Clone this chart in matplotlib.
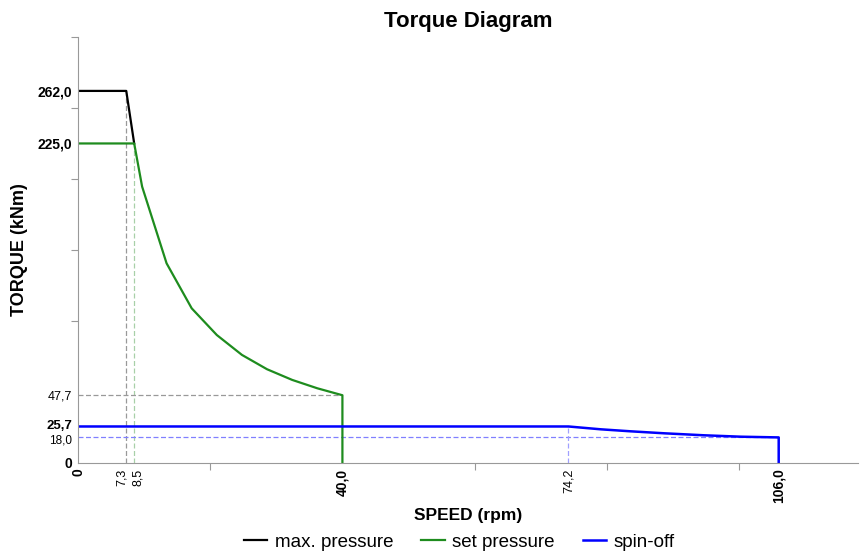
import matplotlib as mpl
mpl.use('Agg')
import matplotlib.pyplot as plt
import matplotlib.ticker as ticker
import matplotlib.transforms as mtransforms

plt.rcParams['font.family'] = ['Liberation Sans', 'DejaVu Sans']

# speed (rpm) / torque (kNm)
max_speed = [0, 7.3, 8.5]
max_torque = [262.0, 262.0, 225.0]

set_speed = [0, 8.5, 9.7, 13.4, 17.2, 21.0, 24.8, 28.6, 32.4, 36.2, 40.0, 40.0]
set_torque = [225.0, 225.0, 194.6, 140.6, 108.9, 90.1, 76.1, 66.0, 58.5, 52.6, 47.7, 0]

spin_speed = [0, 74.2, 79.1, 83.6, 88.7, 94.7, 100.3, 106.0, 106.0]
spin_torque = [25.7, 25.7, 23.7, 22.3, 20.9, 19.5, 18.5, 18.0, 0]

x_marks = [0, 7.3, 8.5, 40.0, 74.2, 106.0]
x_bold = [True, False, False, True, False, True]
y_marks = [0, 18.0, 25.7, 47.7, 225.0, 262.0]
y_bold = [True, False, True, False, True, True]

fig = plt.figure(figsize=(8.6, 5.54), dpi=100)
ax = fig.add_axes([0.0907, 0.1643, 0.907, 0.769])

# guide lines
ax.plot([7.3, 7.3], [0, 262.0], color='#999999', lw=0.9, ls=(0, (4, 2)))
ax.plot([8.5, 8.5], [0, 225.0], color='#a8d0a8', lw=0.9, ls=(0, (4, 2)))
ax.plot([0, 40.0], [47.7, 47.7], color='#999999', lw=0.9, ls=(0, (4, 2)))
ax.plot([0, 106.0], [18.0, 18.0], color='#8080ff', lw=0.9, ls=(0, (4, 2)))
ax.plot([74.2, 74.2], [0, 25.7], color='#a0a0ff', lw=0.9, ls=(0, (4, 2)))

ax.plot(max_speed, max_torque, color='black', lw=1.6, label='max. pressure')
ax.plot(set_speed, set_torque, color='#1e8c1e', lw=1.6, label='set pressure')
ax.plot(spin_speed, spin_torque, color='#0000ff', lw=1.8, label='spin-off')

ax.set_xlim(0, 118)
ax.set_ylim(0, 300)

for s in ['top', 'right']:
    ax.spines[s].set_visible(False)
for s in ['left', 'bottom']:
    ax.spines[s].set_color('#999999')

def fmt(v):
    return '0' if v == 0 else ('%.1f' % v).replace('.', ',')

ax.xaxis.set_major_locator(ticker.FixedLocator(x_marks))
ax.xaxis.set_major_formatter(ticker.FixedFormatter([fmt(v) for v in x_marks]))
ax.xaxis.set_minor_locator(ticker.FixedLocator([20, 60, 80, 100]))
ax.yaxis.set_major_locator(ticker.FixedLocator(y_marks))
ax.yaxis.set_major_formatter(ticker.FixedFormatter([fmt(v) for v in y_marks]))
ax.yaxis.set_minor_locator(ticker.FixedLocator([100, 150, 200, 250, 300]))

ax.tick_params(which='both', color='#999999', length=5, width=0.8)
ax.tick_params(axis='x', which='major', length=0, pad=4)
ax.tick_params(axis='y', which='major', length=0, pad=4)

for i, (lab, b) in enumerate(zip(ax.get_xticklabels(), x_bold)):
    lab.set_rotation(90)
    lab.set_fontweight('bold' if b else 'normal')
    lab.set_fontsize(10 if b else 9)
# nudge the two close labels apart
shifts = {1: -3 / 72, 2: 3 / 72}
for i, dx in shifts.items():
    lab = ax.get_xticklabels()[i]
    lab.set_transform(lab.get_transform() + mtransforms.ScaledTranslation(dx, 0, fig.dpi_scale_trans))
ysizes = [10, 8.5, 9.5, 9, 10, 10]
for lab, b, fs in zip(ax.get_yticklabels(), y_bold, ysizes):
    lab.set_fontweight('bold' if b else 'normal')
    lab.set_fontsize(fs)
# keep 25,7 and 18,0 from touching
ylabs = ax.get_yticklabels()
ylabs[2].set_transform(ylabs[2].get_transform() + mtransforms.ScaledTranslation(0, 1.5 / 72, fig.dpi_scale_trans))
ylabs[1].set_transform(ylabs[1].get_transform() + mtransforms.ScaledTranslation(0, -1 / 72, fig.dpi_scale_trans))

ax.set_title('Torque Diagram', fontsize=16, fontweight='bold', pad=7)
ax.set_xlabel('SPEED (rpm)', fontsize=12.5, fontweight='bold', labelpad=3)
ax.set_ylabel('TORQUE (kNm)', fontsize=13, fontweight='bold', labelpad=7)

fig.legend(loc='lower center', bbox_to_anchor=(0.534, -0.001), ncol=3, frameon=False,
           fontsize=13.5, handlelength=1.25, columnspacing=1.5, handletextpad=0.4,
           borderaxespad=0, borderpad=0.2)

fig.savefig('out.png', dpi=100)
